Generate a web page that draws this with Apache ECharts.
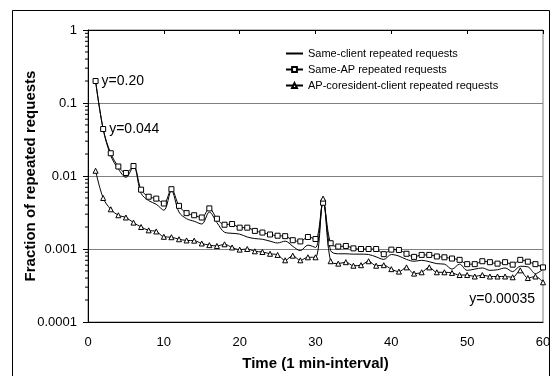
<!DOCTYPE html>
<html>
<head>
<meta charset="utf-8">
<script src="https://cdn.jsdelivr.net/npm/echarts@6/dist/echarts.min.js"></script>
<style>
  html, body { margin: 0; padding: 0; background: #fff; }
  #main { width: 555px; height: 376px; }
</style>
</head>
<body>
<div id="main"></div>
<script>
// minute index 1..60 on the x axis
const minutes = Array.from({ length: 60 }, (_, i) => i + 1);

const seriesNames = [
  'Same-client repeated requests',
  'Same-AP repeated requests',
  'AP-coresident-client repeated requests'
];

const sameClient = [
  0.20, 0.044, 0.019, 0.0125, 0.0096, 0.0135, 0.0058, 0.0046, 0.0041, 0.0034,
  0.0063, 0.0032, 0.0026, 0.0024, 0.0022, 0.0032, 0.0023, 0.0017, 0.00164, 0.0016,
  0.00146, 0.00139, 0.00136, 0.00128, 0.00121, 0.00128, 0.00109, 0.00095, 0.00113, 0.00105,
  0.0044, 0.00095, 0.00086, 0.00086, 0.00085, 0.00085, 0.00084, 0.00078, 0.00072, 0.00084,
  0.0008, 0.00072, 0.00068, 0.0007, 0.00067, 0.00063, 0.00062, 0.00053, 0.00062, 0.00051,
  0.00053, 0.00055, 0.00051, 0.00052, 0.00055, 0.00049, 0.00058, 0.00057, 0.00046, 0.00053
];

const sameAP = [
  0.20, 0.044, 0.0205, 0.0135, 0.011, 0.0137, 0.0065, 0.0052, 0.0049, 0.0042,
  0.0066, 0.0039, 0.0031, 0.0029, 0.0027, 0.0036, 0.0026, 0.00215, 0.0022, 0.00196,
  0.00196, 0.00177, 0.00168, 0.00158, 0.00152, 0.0015, 0.00132, 0.00127, 0.00146, 0.00137,
  0.0043, 0.0012, 0.00108, 0.0011, 0.00102, 0.001, 0.001, 0.001, 0.00085, 0.00098,
  0.00097, 0.00086, 0.00078, 0.00083, 0.00083, 0.00079, 0.00077, 0.00074, 0.00071, 0.00062,
  0.00062, 0.00068, 0.00066, 0.00063, 0.00066, 0.00061, 0.00071, 0.00067, 0.00062, 0.00056
];

const apCoresident = [
  0.0118, 0.005, 0.0035, 0.0029, 0.0027, 0.0023, 0.002, 0.0018, 0.00174, 0.00147,
  0.00145, 0.00136, 0.00131, 0.0013, 0.00119, 0.00113, 0.0011, 0.00116, 0.00105, 0.00098,
  0.001, 0.00093, 0.00091, 0.00086, 0.00083, 0.0007, 0.00081, 0.0007, 0.00077, 0.00077,
  0.0049, 0.00068, 0.00063, 0.00066, 0.00059, 0.0006, 0.00068, 0.00059, 0.0006, 0.00053,
  0.00049, 0.00056, 0.00046, 0.00048, 0.00056, 0.00048, 0.00048, 0.00047, 0.00044, 0.00044,
  0.00042, 0.00044, 0.00042, 0.00042, 0.00042, 0.00041, 0.00051, 0.0004, 0.00042, 0.00035
];

const yTickLabels = ['0.0001', '0.001', '0.01', '0.1', '1'];
const minorDecades = [0.0001, 0.001, 0.01, 0.1];
const minorSteps = [2, 3, 4, 5, 6, 7, 8, 9];

// text notes put on single points: [series, point index, text]
const notes = [
  [1, 0, 'y=0.20'],
  [1, 1, 'y=0.044'],
  [2, 59, 'y=0.00035']
];

const FONT = "'Liberation Sans', Arial, sans-serif";
const chart = echarts.init(document.getElementById('main'), null, { renderer: 'canvas' });

const noteLabel = (s, i) => {
  const n = notes.find(d => d[0] === s && d[1] === i);
  if (!n) return null;
  if (s === 2) {
    return { show: true, position: 'left', distance: 5, offset: [0, 17], formatter: n[2],
      fontSize: 14, color: '#000', fontFamily: FONT };
  }
  return { show: true, position: 'right', distance: 3, formatter: n[2],
    fontSize: 14, color: '#000', fontFamily: FONT };
};

const toData = (vals, s) => minutes.map((t, i) => {
  const label = noteLabel(s, i);
  return label ? { value: [t, vals[i]], label } : [t, vals[i]];
});

const minorTicks = [];
minorDecades.forEach(d => minorSteps.forEach(m => minorTicks.push([0, d * m])));

const lineBase = {
  type: 'line',
  smooth: 0.35,
  xAxisIndex: 0,
  yAxisIndex: 0,
  lineStyle: { color: '#000', width: 1 },
  itemStyle: { color: '#fff', borderColor: '#000', borderWidth: 1 },
  emphasis: { disabled: true },
  animation: false,
  z: 3
};

const option = {
  backgroundColor: '#fff',
  animation: false,
  textStyle: { fontFamily: FONT, color: '#000' },
  graphic: [{
    type: 'rect',
    shape: { x: 12.5, y: 10.5, width: 537, height: 400 },
    style: { fill: 'none', stroke: '#000', lineWidth: 1 },
    silent: true
  }],
  grid: {
    left: 88, right: 12, top: 30, bottom: 47,
    show: true, borderColor: '#808080', borderWidth: 1, backgroundColor: 'transparent'
  },
  legend: {
    orient: 'vertical',
    left: 280,
    top: 43,
    itemWidth: 17,
    itemHeight: 6,
    itemGap: 5,
    data: [
      { name: seriesNames[0], itemStyle: { opacity: 0 } },
      { name: seriesNames[1] },
      { name: seriesNames[2] }
    ],
    textStyle: { fontSize: 11, color: '#000', fontFamily: FONT, lineHeight: 11 },
    selectedMode: false
  },
  xAxis: [{
    type: 'value',
    position: 'bottom',
    min: 0, max: 60, interval: 10,
    axisLine: { show: true, lineStyle: { color: '#000', width: 1 } },
    axisTick: { show: false },
    axisLabel: { fontSize: 13, color: '#000', margin: 14, fontFamily: FONT },
    splitLine: { show: false },
    name: 'Time (1 min-interval)',
    nameLocation: 'middle',
    nameGap: 34,
    nameMoveOverlap: false,
    nameTextStyle: { fontSize: 15, fontWeight: 'bold', color: '#000', fontFamily: FONT }
  }, {
    type: 'value',
    position: 'top',
    min: 0, max: 60, interval: 10,
    axisLine: { show: true, lineStyle: { color: '#000', width: 1 } },
    axisTick: { show: true, inside: true, length: 4, lineStyle: { color: '#000' } },
    axisLabel: { show: false },
    splitLine: { show: false }
  }],
  yAxis: {
    type: 'log',
    logBase: 10,
    min: 0.0001,
    max: 1,
    axisLine: { show: true, lineStyle: { color: '#000', width: 1 } },
    axisTick: { show: true, inside: false, length: 5, lineStyle: { color: '#000' } },
    axisLabel: {
      fontSize: 13, color: '#000', margin: 11, fontFamily: FONT,
      formatter: v => yTickLabels[Math.round(Math.log10(v)) + 4]
    },
    splitLine: { show: true, lineStyle: { color: '#808080', width: 1 } },
    name: 'Fraction of repeated requests',
    nameLocation: 'middle',
    nameGap: 50,
    nameMoveOverlap: false,
    nameTextStyle: { fontSize: 15, fontWeight: 'bold', color: '#000', fontFamily: FONT }
  },
  series: [
    Object.assign({}, lineBase, {
      name: seriesNames[0],
      symbol: 'none',
      showSymbol: false,
      data: toData(sameClient, 0)
    }),
    Object.assign({}, lineBase, {
      name: seriesNames[1],
      symbol: 'rect',
      symbolSize: 5,
      showAllSymbol: true,
      data: toData(sameAP, 1)
    }),
    Object.assign({}, lineBase, {
      name: seriesNames[2],
      symbol: 'triangle',
      symbolSize: 5,
      showAllSymbol: true,
      data: toData(apCoresident, 2)
    }),
    {
      type: 'custom',
      name: 'minor ticks',
      silent: true,
      clip: false,
      animation: false,
      data: minorTicks,
      renderItem: (params, api) => {
        const p = api.coord([0, api.value(1)]);
        return {
          type: 'line',
          shape: { x1: p[0] - 3, y1: p[1], x2: p[0], y2: p[1] },
          style: { stroke: '#000', lineWidth: 1 }
        };
      }
    }
  ]
};

chart.setOption(option);
</script>
</body>
</html>
